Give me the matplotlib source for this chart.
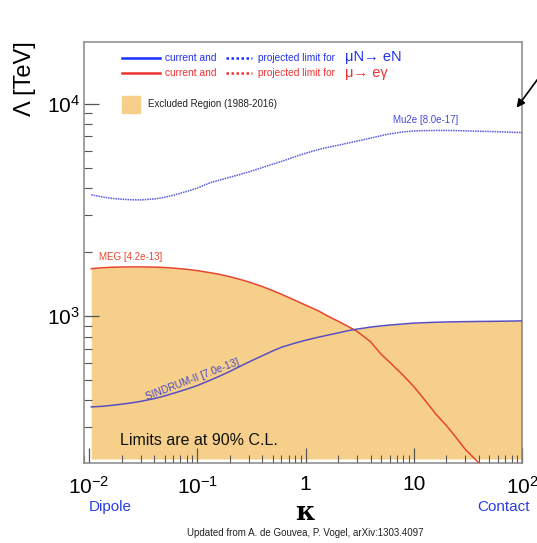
import matplotlib
matplotlib.use('Agg')
import matplotlib.pyplot as plt
import numpy as np
from matplotlib.ticker import FixedLocator, FuncFormatter, LogLocator, NullFormatter

plt.rcParams['font.family'] = ['Liberation Sans', 'DejaVu Sans']
plt.rcParams['mathtext.fontset'] = 'custom'
plt.rcParams['mathtext.rm'] = 'Liberation Sans'
plt.rcParams['mathtext.it'] = 'Liberation Sans:italic'

# kappa grid and limits (Lambda in TeV)
kappa = [0.0105, 0.013, 0.016, 0.02, 0.025, 0.03, 0.04, 0.05, 0.06, 0.08,
         0.1, 0.13, 0.16, 0.2, 0.25, 0.3, 0.4, 0.5, 0.6, 0.8,
         1, 1.3, 1.6, 2, 2.5, 3, 4, 5, 6, 8,
         10, 13, 16, 20, 25, 30, 40, 50, 60, 80, 100]
meg = [1670, 1685, 1695, 1700, 1702, 1702, 1698, 1690, 1680, 1658,
       1635, 1600, 1570, 1530, 1485, 1445, 1375, 1315, 1265, 1185,
       1125, 1060, 1000, 945, 890, 845, 755, 660, 605, 525,
       465, 395, 345, 305, 265, 235, 203, 172, 152, 128, 112]
sindrum = [373, 375, 379, 384, 390, 396, 408, 420, 432, 452,
           470, 497, 520, 548, 580, 607, 650, 685, 712, 745,
           768, 793, 812, 832, 853, 867, 886, 898, 906, 917,
           925, 930, 934, 937, 939, 940, 942, 943, 944, 946, 948]
mu2e = [3720, 3640, 3580, 3545, 3525, 3520, 3555, 3620, 3700, 3860,
        4000, 4230, 4360, 4500, 4640, 4770, 5000, 5190, 5340, 5620,
        5840, 6060, 6220, 6360, 6530, 6660, 6880, 7060, 7200, 7360,
        7430, 7460, 7470, 7470, 7460, 7440, 7410, 7390, 7370, 7330, 7300]
fill_floor = 212

W, H = 537, 543
fig = plt.figure(figsize=(W / 100, H / 100), dpi=100)
x0, x1, y0, y1 = 84, 522, 42, 463   # axes box in pixels (top-left origin)
ax = fig.add_axes([x0 / W, 1 - y1 / H, (x1 - x0) / W, (y1 - y0) / H])

k = np.array(kappa)
excl = np.maximum(np.array(meg), np.array(sindrum))
ax.fill_between(k, fill_floor, excl, color='#f6d08b', lw=0, zorder=1)
ax.plot(k, meg, color='#e8452c', lw=1.1, zorder=3)
ax.plot(k, sindrum, color='#5a4fc0', lw=1.1, zorder=3)
ax.plot(k, mu2e, color='#5a5ae0', lw=1.1, ls=(0, (1, 0.6)), zorder=3)

ax.set_xscale('log')
ax.set_yscale('log')
ax.set_xlim(0.00899, 100)
ax.set_ylim(203, 19500)

ax.xaxis.set_major_locator(FixedLocator([0.01, 0.1, 1, 10, 100]))
xl = {0.01: r'$10^{-2}$', 0.1: r'$10^{-1}$', 1: '1', 10: '10', 100: r'$10^{2}$'}
ax.xaxis.set_major_formatter(FuncFormatter(lambda v, p: xl.get(round(v, 4), '')))
ax.xaxis.set_minor_locator(LogLocator(base=10, subs=np.arange(2, 10)))
ax.xaxis.set_minor_formatter(NullFormatter())
ax.yaxis.set_major_locator(FixedLocator([1000, 10000]))
ax.yaxis.set_major_formatter(FuncFormatter(lambda v, p: r'$10^{%d}$' % round(np.log10(v))))
ax.yaxis.set_minor_locator(LogLocator(base=10, subs=np.arange(2, 10)))
ax.yaxis.set_minor_formatter(NullFormatter())

ax.tick_params(which='both', direction='in', top=False, right=False, color='#555555')
ax.tick_params(which='major', length=11, width=0.9, labelsize=15)
ax.tick_params(axis='x', which='major', pad=9)
ax.tick_params(axis='y', which='major', pad=3)
ax.tick_params(which='minor', length=6, width=0.8)
for s in ax.spines.values():
    s.set_color('#888888')
    s.set_linewidth(1.1)

# curve labels
ax.text(0.0125, 1830, 'MEG [4.2e-13]', color='#e8452c', fontsize=7)
ax.text(0.09, 500, 'SINDRUM-II [7.0e-13]', color='#4848c8', fontsize=7.3,
        rotation=21, ha='center', va='center')
ax.text(13, 8100, 'Mu2e [8.0e-17]', color='#4848d8', fontsize=7, ha='center')
ax.text(0.0193, 258, 'Limits are at 90% C.L.', fontsize=11.5, color='#111111', va='center')


def fx(px):
    return px / W


def fy(py):
    return 1 - py / H


# hand-made legend
tf = fig.transFigure
fig.add_artist(plt.Line2D([fx(122), fx(160)], [fy(58), fy(58)], color='#1a2eff', lw=1.8, transform=tf))
fig.add_artist(plt.Line2D([fx(226), fx(252)], [fy(58), fy(58)], color='#1a2eff', lw=1.8,
                          ls=(0, (1, 1)), transform=tf))
fig.add_artist(plt.Line2D([fx(122), fx(160)], [fy(73), fy(73)], color='#ee3333', lw=1.8, transform=tf))
fig.add_artist(plt.Line2D([fx(226), fx(252)], [fy(73), fy(73)], color='#ee3333', lw=1.8,
                          ls=(0, (1, 1)), transform=tf))
fig.text(fx(165), fy(58), 'current and', color='#2233ee', fontsize=7.3, va='center')
fig.text(fx(258), fy(58), 'projected limit for', color='#2233ee', fontsize=7.3, va='center')
fig.text(fx(345), fy(57), 'μN→ eN', color='#2233ee', fontsize=10.5, va='center')
fig.text(fx(165), fy(73), 'current and', color='#ee3333', fontsize=7.3, va='center')
fig.text(fx(258), fy(73), 'projected limit for', color='#ee3333', fontsize=7.3, va='center')
fig.text(fx(345), fy(73), 'μ→ eγ', color='#ee3333', fontsize=10.5, va='center')
fig.add_artist(plt.Rectangle((fx(122), fy(113)), fx(140) - fx(122), fy(96) - fy(113),
                             color='#f6d08b', transform=tf))
fig.text(fx(148), fy(104), 'Excluded Region (1988-2016)', color='#222222', fontsize=7, va='center')

# axis titles and notes
fig.text(fx(25), fy(79), 'Λ [TeV]', rotation=90, fontsize=17, ha='center', va='center')
fig.text(fx(305), fy(512), 'κ', family=['DejaVu Serif'], fontweight='bold', fontsize=19,
         ha='center', va='center')
fig.text(fx(110), fy(507), 'Dipole', color='#2a3ee0', fontsize=11, ha='center', va='center')
fig.text(fx(503), fy(507), 'Contact', color='#2a3ee0', fontsize=11, ha='center', va='center')
fig.text(fx(305), fy(533), 'Updated from A. de Gouvea, P. Vogel, arXiv:1303.4097',
         fontsize=7, ha='center', va='center', color='#222222')

ax.annotate('', xy=(515, H - 110), xycoords='figure pixels',
            xytext=(540, H - 76), textcoords='figure pixels',
            arrowprops=dict(arrowstyle='-|>', color='black', lw=1.2, mutation_scale=12))

fig.savefig('out.png', dpi=100)
